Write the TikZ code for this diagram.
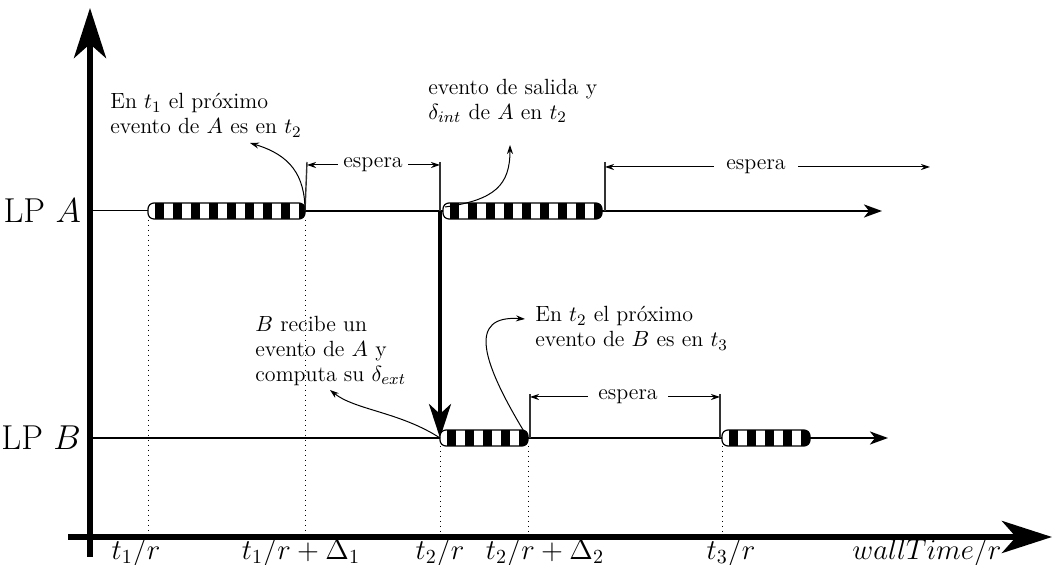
\documentclass[tikz,border=0pt]{standalone}
\usetikzlibrary{arrows.meta}
% striped block of busy time on a timeline: x1, x2, y
\newcommand{\busybar}[3]{%
  \begin{scope}
    \clip[rounded corners=3pt] (#1,#3-8) rectangle (#2,#3+8);
    \fill[white] (#1,#3-8) rectangle (#2,#3+8);
    \foreach \k in {0,...,9}
      \fill (#1+7+18*\k,#3-8) rectangle ++(9,16);
  \end{scope}
  \draw[line width=0.6pt, rounded corners=3pt] (#1,#3-8) rectangle (#2,#3+8);
}
\begin{document}
\begin{tikzpicture}[x=0.5pt, y=-0.5pt,
  axis/.style={line width=3pt, -{Stealth[length=25pt, width=16pt, inset=7pt]}},
  lp/.style={line width=1.2pt, -{Stealth[length=9pt, width=6.5pt, inset=2.5pt]}},
  msg/.style={line width=2pt, -{Stealth[length=17pt, width=11pt, inset=5pt]}},
  note/.style={line width=0.5pt, -{Stealth[length=4.5pt, width=3pt]}},
  tick/.style={line width=0.7pt, black!80},
  guide/.style={dotted, line width=0.5pt},
  txt/.style={font=\fontsize{11}{12.5}\selectfont, align=left, inner sep=0pt},
  wait/.style={font=\fontsize{11}{12.5}\selectfont},
  lbl/.style={font=\LARGE},
  tlbl/.style={font=\Large}
]
\useasboundingbox (0,0) rectangle (1062,565);

% axes
\coordinate (yb) at (90,557);
\coordinate (yt) at (90,8);
\coordinate (xl) at (68,537);
\coordinate (xr) at (1052,537);
\draw[axis] (yb) -- (yt);
\draw[axis] (xl) -- (xr);

% timeline points
\coordinate (A0) at (90,211);
\coordinate (A1) at (148,211);
\coordinate (A2) at (305,211);
\coordinate (sA) at (440,211);
\coordinate (A3) at (443,211);
\coordinate (A4) at (602,211);
\coordinate (Aend) at (882,211);
\coordinate (B0) at (90,438);
\coordinate (B1) at (440,438);
\coordinate (B2) at (528,438);
\coordinate (B3) at (722,438);
\coordinate (B4) at (810,438);
\coordinate (Bend) at (888,438);

\node[lbl, anchor=east] (lpA) at (88,211) {LP $A$};
\node[lbl, anchor=east] (lpB) at (88,438) {LP $B$};

% guides down to the time axis
\draw[guide] (148,220) -- (148,535);
\draw[guide] (305,220) -- (305,535);
\draw[guide] (440,446) -- (440,535);
\draw[guide] (528,446) -- (528,535);
\draw[guide] (722,446) -- (722,535);

% LP A
\draw[line width=0.5pt] (A0) -- (A1);
\draw[line width=1.2pt] (A2) -- (A3);
\draw[lp] (A4) -- (Aend);
% LP B
\draw[line width=1.2pt] (B0) -- (B1);
\draw[line width=1.2pt] (B2) -- (B3);
\draw[lp] (B4) -- (Bend);

% message from A to B
\draw[msg] (sA) -- (B1);

\busybar{148}{305}{211}
\busybar{443}{602}{211}
\busybar{440}{528}{438}
\busybar{722}{810}{438}

% waiting intervals
\draw[tick] (307,162) -- (A2);
\draw[tick] (440,162) -- (sA);
\draw[tick] (605,162) -- (605,211);
\draw[tick] (530,394) -- (530,438);
\draw[tick] (720,394) -- (720,438);
\node[wait, inner sep=2.5pt] (w1) at (373,165) {espera};
\draw[note] (w1.west) -- (307,165);
\draw[note] (w1.east) -- (440,165);
\node[wait, inner sep=6pt] (w2) at (756,167) {espera};
\draw[note] (w2.west) -- (605,167);
\draw[note] (w2.east) -- (930,167);
\node[wait, inner sep=5pt] (w3) at (628,397) {espera};
\draw[note] (w3.west) -- (530,397);
\draw[note] (w3.east) -- (720,397);

% notes
\node[txt, anchor=north west] (n1) at (110,93) {En $t_1$ el próximo\\evento de $A$ es en $t_2$};
\coordinate (n1p) at (250,143);
\draw[note] (A2) .. controls (305,175) and (290,155) .. (n1p);

\node[txt, anchor=north west] (n2) at (428,79) {evento de salida y\\$\delta_{int}$ de $A$ en $t_2$};
\coordinate (n2p) at (510,145);
\draw[note] (445,207) .. controls (495,200) and (510,185) .. (n2p);

\node[txt, anchor=north west] (n3) at (255,316) {$B$ recibe un\\evento de $A$ y\\computa su $\delta_{ext}$};
\coordinate (n3p) at (330,390);
\draw[note] (B1) .. controls (400,412) and (355,410) .. (n3p);

\node[txt, anchor=north west] (n4) at (535,306) {En $t_2$ el próximo\\evento de $B$ es en $t_3$};
\coordinate (n4p) at (525,319);
\draw[note] (B2) .. controls (480,360) and (468,315) .. (n4p);

% time labels
\node[tlbl] (t1) at (136,552) {$t_1/r$};
\node[tlbl] (t1d) at (301,552) {$t_1/r+\Delta_1$};
\node[tlbl] (t2) at (440,552) {$t_2/r$};
\node[tlbl] (t2d) at (545,552) {$t_2/r+\Delta_2$};
\node[tlbl] (t3) at (731,552) {$t_3/r$};
\node[tlbl] (wt) at (927,552) {$wallTime/r$};
\end{tikzpicture}
\end{document}
